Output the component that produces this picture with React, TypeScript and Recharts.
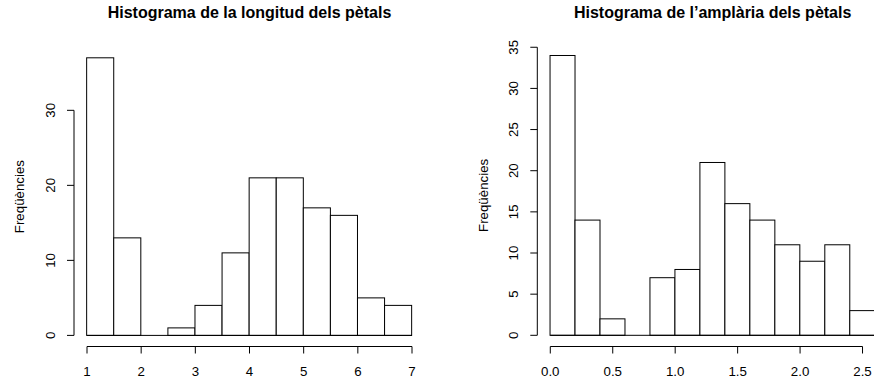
import { BarChart, Bar, XAxis, YAxis, ReferenceLine, Customized } from "recharts"

const lengthBreaks = [1, 1.5, 2, 2.5, 3, 3.5, 4, 4.5, 5, 5.5, 6, 6.5, 7]
const lengthCounts = [37, 13, 0, 1, 4, 11, 21, 21, 17, 16, 5, 4]
const lengthXTicks = [1, 2, 3, 4, 5, 6, 7]
const lengthYTicks = [0, 10, 20, 30]

const widthBreaks = [0, 0.2, 0.4, 0.6, 0.8, 1, 1.2, 1.4, 1.6, 1.8, 2, 2.2, 2.4, 2.6]
const widthCounts = [34, 14, 2, 0, 7, 8, 21, 16, 14, 11, 9, 11, 3]
const widthXTicks = [0, 0.5, 1, 1.5, 2, 2.5]
const widthYTicks = [0, 5, 10, 15, 20, 25, 30, 35]

const FONT = "'Liberation Sans', Arial, Helvetica, sans-serif"
const Y_AXIS_W = 60
const X_AXIS_H = 34.5

function RotatedTick(props: any) {
  const { x, y, payload } = props
  return (
    <text
      x={x}
      y={y}
      transform={`rotate(-90, ${x}, ${y})`}
      textAnchor="middle"
      fontSize={13.3}
      fontFamily={FONT}
      fill="#000"
    >
      {payload.value}
    </text>
  )
}

function YLabel(props: any) {
  const vb = props.viewBox
  const x = vb.x + vb.width - 49.5
  const y = vb.y + vb.height / 2
  return (
    <text
      x={x}
      y={y}
      transform={`rotate(-90, ${x}, ${y})`}
      textAnchor="middle"
      fontSize={13.3}
      fontFamily={FONT}
      fill="#000"
    >
      Freqüències
    </text>
  )
}

interface HistProps {
  title: string
  breaks: number[]
  counts: number[]
  xTicks: number[]
  yTicks: number[]
  xFormat?: (v: number) => string
  width: number
  margin: { top: number; right: number; bottom: number; left: number }
}

function Histogram({ title, breaks, counts, xTicks, yTicks, xFormat, width, margin }: HistProps) {
  const height = 381
  const data = counts.map((c, i) => ({ mid: (breaks[i] + breaks[i + 1]) / 2, count: c }))
  const first = breaks[0]
  const last = breaks[breaks.length - 1]
  const xPad = (last - first) * 0.04
  const xMin = first - xPad
  const xMax = last + xPad
  const maxCount = Math.max(...counts)
  const yMin = -maxCount * 0.04
  const yMax = maxCount * 1.04

  const plotW = width - margin.left - margin.right - Y_AXIS_W
  const binW = breaks[1] - breaks[0]
  const barSize = (plotW / (xMax - xMin)) * binW
  const titleX = margin.left + Y_AXIS_W + plotW / 2

  // recharts shrinks bars on a number axis, so re-centre a full-width rect on each bin
  const binShape = (p: any) => {
    const cx = p.x + p.width / 2
    return (
      <rect
        x={cx - barSize / 2}
        y={p.y}
        width={barSize}
        height={Math.max(p.height || 0, 0)}
        fill="#fff"
        stroke="#000"
        strokeWidth={1}
      />
    )
  }

  return (
    <BarChart width={width} height={height} data={data} margin={margin} barCategoryGap={0} barGap={0}>
      <XAxis
        type="number"
        dataKey="mid"
        domain={[xMin, xMax]}
        ticks={xTicks}
        interval={0}
        height={X_AXIS_H}
        axisLine={false}
        tickLine={{ stroke: "#000" }}
        tickSize={7}
        tickMargin={13}
        tickFormatter={xFormat}
        tick={{ fill: "#000", fontSize: 13.3, fontFamily: FONT }}
      />
      <YAxis
        type="number"
        domain={[yMin, yMax]}
        ticks={yTicks}
        interval={0}
        width={Y_AXIS_W}
        axisLine={false}
        tickLine={{ stroke: "#000" }}
        tickSize={7}
        tickMargin={12}
        tick={<RotatedTick />}
        label={<YLabel />}
      />
      <ReferenceLine
        segment={[{ x: xTicks[0], y: yMin }, { x: xTicks[xTicks.length - 1], y: yMin }]}
        stroke="#000"
        ifOverflow="visible"
      />
      <ReferenceLine
        segment={[{ x: xMin, y: yTicks[0] }, { x: xMin, y: yTicks[yTicks.length - 1] }]}
        stroke="#000"
        ifOverflow="visible"
      />
      <Bar dataKey="count" barSize={barSize} isAnimationActive={false} shape={binShape} />
      {/* empty bins are still drawn by R as a flat rect on the baseline */}
      <ReferenceLine
        segment={[{ x: first, y: 0 }, { x: last, y: 0 }]}
        stroke="#000"
        ifOverflow="visible"
      />
      <Customized
        component={() => (
          <text x={titleX} y={18} textAnchor="middle" fontSize={16} fontWeight="bold" fontFamily={FONT} fill="#000">
            {title}
          </text>
        )}
      />
    </BarChart>
  )
}

export default function App() {
  return (
    <div style={{ position: "absolute", left: 0, top: 0, width: 874, height: 381, overflow: "hidden", background: "#fff" }}>
      <div style={{ position: "absolute", left: 0, top: 0 }}>
        <Histogram
          title="Histograma de la longitud dels pètals"
          breaks={lengthBreaks}
          counts={lengthCounts}
          xTicks={lengthXTicks}
          yTicks={lengthYTicks}
          width={437}
          margin={{ top: 46.7, right: 12, bottom: 0, left: 14 }}
        />
      </div>
      <div style={{ position: "absolute", left: 437, top: 0 }}>
        <Histogram
          title="Histograma de l’amplària dels pètals"
          breaks={widthBreaks}
          counts={widthCounts}
          xTicks={widthXTicks}
          yTicks={widthYTicks}
          xFormat={(v: number) => v.toFixed(1)}
          width={465}
          margin={{ top: 44.3, right: 14, bottom: 0, left: 40.3 }}
        />
      </div>
    </div>
  )
}
